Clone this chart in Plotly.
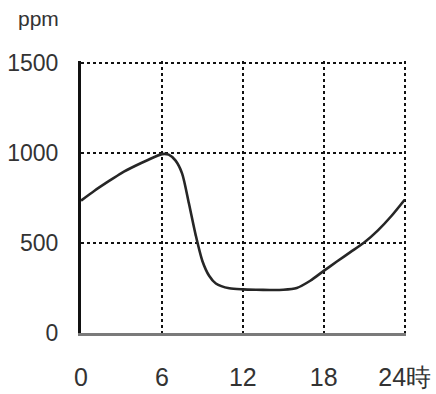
import plotly.graph_objects as go

hours = [0, 1, 2, 3, 4, 5, 6, 6.5, 7, 7.5, 8, 8.5, 9, 9.5, 10, 11, 12, 13, 14, 15, 16, 17, 18, 19, 20, 21, 22, 23, 24]
ppm = [735, 790, 840, 888, 927, 962, 993, 990, 958, 885, 720, 545, 400, 318, 275, 248, 242, 240, 239, 240, 250, 290, 345, 398, 450, 502, 568, 648, 740]

x_ticks = [0, 6, 12, 18, 24]
x_labels = ["0", "6", "12", "18", "24時"]
y_ticks = [0, 500, 1000, 1500]
y_labels = ["0", "500", "1000", "1500"]
y_unit = "ppm"

FONT = "Liberation Sans, Arial, sans-serif"
TXT = "#333333"

fig = go.Figure()
fig.add_trace(go.Scatter(
    x=hours, y=ppm, mode="lines",
    line=dict(color="#262626", width=2.6, shape="spline", smoothing=0.7),
    hoverinfo="skip", showlegend=False,
))

fig.update_layout(
    width=436, height=394,
    margin=dict(l=81, r=30, t=61, b=61),
    paper_bgcolor="white", plot_bgcolor="white",
    font=dict(family=FONT, color=TXT),
    xaxis=dict(
        range=[0, 24.1], tickvals=x_ticks, ticktext=x_labels,
        showgrid=True, gridcolor="#111", griddash="dot", gridwidth=1.5,
        showline=True, linecolor="#7a7a7a", linewidth=3,
        zeroline=False, ticks="", ticklabelstandoff=20, automargin=False,
        tickfont=dict(size=25, family=FONT, color=TXT),
    ),
    yaxis=dict(
        range=[0, 1510], tickvals=y_ticks, ticktext=y_labels,
        showgrid=True, gridcolor="#111", griddash="dot", gridwidth=1.5,
        showline=True, linecolor="#111", linewidth=3,
        zeroline=False, ticks="", ticklabelstandoff=15, automargin=False,
        tickfont=dict(size=23, family=FONT, color=TXT),
    ),
    annotations=[dict(
        text=y_unit, xref="paper", yref="paper", x=-0.13, y=1.155,
        xanchor="center", yanchor="middle", showarrow=False,
        font=dict(size=21, family=FONT, color=TXT),
    )],
)

fig.write_html("out.html", config={"displayModeBar": False},
               post_script="document.body.style.margin='0';")
